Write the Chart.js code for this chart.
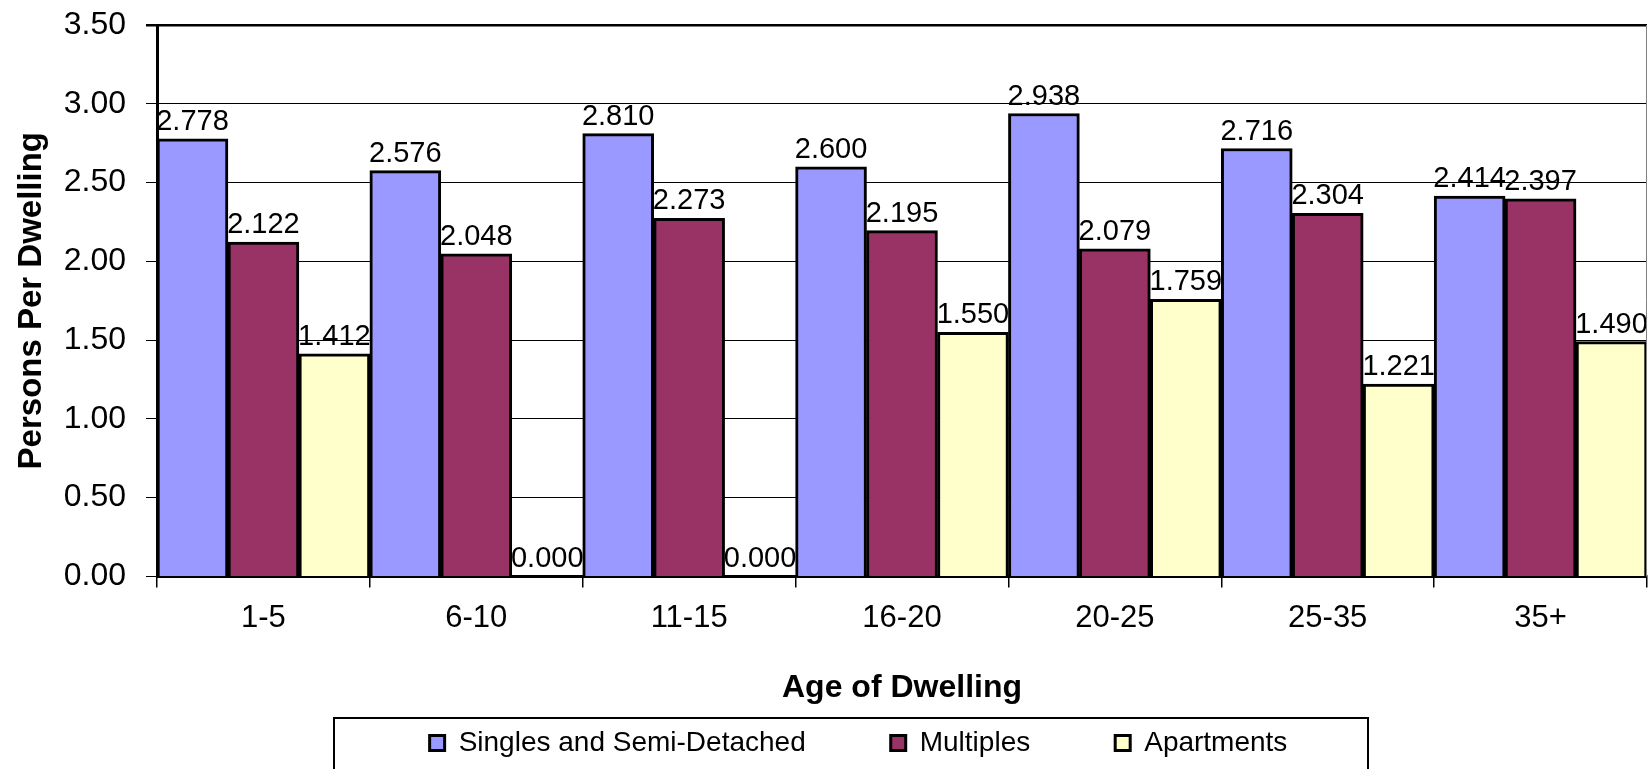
<!DOCTYPE html>
<html>
<head>
<meta charset="utf-8">
<script src="https://cdn.jsdelivr.net/npm/chart.js@4.4.0/dist/chart.umd.min.js"></script>
<style>
  html, body { margin: 0; padding: 0; background: #fff; }
  #wrap { width: 1648px; height: 769px; }
</style>
</head>
<body>
<div id="wrap"><canvas id="dwelling"></canvas></div>
<script>
// values
const ageGroups = ['1-5', '6-10', '11-15', '16-20', '20-25', '25-35', '35+'];
const singlesSemi = [2.778, 2.576, 2.810, 2.600, 2.938, 2.716, 2.414];
const multiples = [2.122, 2.048, 2.273, 2.195, 2.079, 2.304, 2.397];
const apartments = [1.412, 0.000, 0.000, 1.550, 1.759, 1.221, 1.490];

Chart.defaults.font.family = '"Liberation Sans", Arial, sans-serif';
Chart.defaults.color = '#000';

// value labels above each bar
const barValues = {
  id: 'barValues',
  afterDatasetsDraw(chart) {
    const ctx = chart.ctx;
    ctx.save();
    ctx.font = '29px "Liberation Sans", Arial, sans-serif';
    ctx.fillStyle = '#000';
    ctx.textAlign = 'center';
    ctx.textBaseline = 'alphabetic';
    chart.data.datasets.forEach((ds, i) => {
      chart.getDatasetMeta(i).data.forEach((bar, j) => {
        ctx.fillText(ds.data[j].toFixed(3), bar.x, bar.y - 9);
      });
    });
    ctx.restore();
  }
};

// move the legend items to where the original has them, draw its frame
const legendFrame = {
  id: 'legendFrame',
  afterLayout(chart) {
    const lg = chart.legend;
    const pad = lg.options.labels.padding;
    lg.left += 35;
    lg.right += 35;
    lg.top += 12 - pad;
  },
  afterDraw(chart) {
    const ctx = chart.ctx;
    const area = chart.chartArea;
    ctx.save();
    // right border of plot area
    ctx.strokeStyle = '#808080';
    ctx.lineWidth = 1;
    ctx.beginPath();
    ctx.moveTo(area.right - 0.5, area.top);
    ctx.lineTo(area.right - 0.5, area.bottom);
    ctx.stroke();
    // legend box
    ctx.strokeStyle = '#000';
    ctx.lineWidth = 2;
    ctx.strokeRect(334, 718, 1034, 60);
    ctx.restore();
  }
};

const config = {
  type: 'bar',
  data: {
    labels: ageGroups,
    datasets: [
      {
        label: 'Singles and Semi-Detached',
        data: singlesSemi,
        backgroundColor: '#9999FF',
        borderColor: '#000',
        borderWidth: 3
      },
      {
        label: 'Multiples',
        data: multiples,
        backgroundColor: '#993366',
        borderColor: '#000',
        borderWidth: 3
      },
      {
        label: 'Apartments',
        data: apartments,
        backgroundColor: '#FFFFCC',
        borderColor: '#000',
        borderWidth: 3
      }
    ]
  },
  options: {
    responsive: true,
    maintainAspectRatio: false,
    animation: false,
    categoryPercentage: 1.0,
    barPercentage: 1.0,
    layout: {
      padding: { top: 0, right: 1, left: 0, bottom: 0 }
    },
    plugins: {
      tooltip: { enabled: false },
      legend: {
        position: 'bottom',
        maxHeight: 52,
        labels: {
          font: { size: 28 },
          boxWidth: 15,
          boxHeight: 15,
          padding: 85,
          color: '#000'
        }
      }
    },
    scales: {
      x: {
        grid: {
          drawOnChartArea: false,
          drawTicks: true,
          tickLength: 11,
          color: '#000',
          lineWidth: 1.5
        },
        border: { color: '#000', width: 3 },
        ticks: { font: { size: 31 }, padding: 12, color: '#000' },
        title: {
          display: true,
          text: 'Age of Dwelling',
          font: { size: 32, weight: 'bold' },
          color: '#000',
          padding: { top: 20, bottom: 10 }
        }
      },
      y: {
        min: 0,
        max: 3.5,
        afterFit(scale) {
          scale.width = 157;
          scale.paddingTop = 25;
          scale.paddingBottom = 20;
        },
        grid: {
          color: '#000',
          lineWidth: c => (c.tick && c.tick.value === 3.5 ? 2.5 : 1),
          tickLength: 11
        },
        border: { color: '#000', width: 3 },
        ticks: {
          stepSize: 0.5,
          font: { size: 32 },
          padding: 20,
          color: '#000',
          callback: v => v.toFixed(2)
        },
        title: {
          display: true,
          text: 'Persons Per Dwelling',
          font: { size: 33, weight: 'bold' },
          color: '#000',
          padding: { top: 12, bottom: 16 }
        }
      }
    }
  },
  plugins: [barValues, legendFrame]
};

const dwellingChart = new Chart(document.getElementById('dwelling'), config);
</script>
</body>
</html>
